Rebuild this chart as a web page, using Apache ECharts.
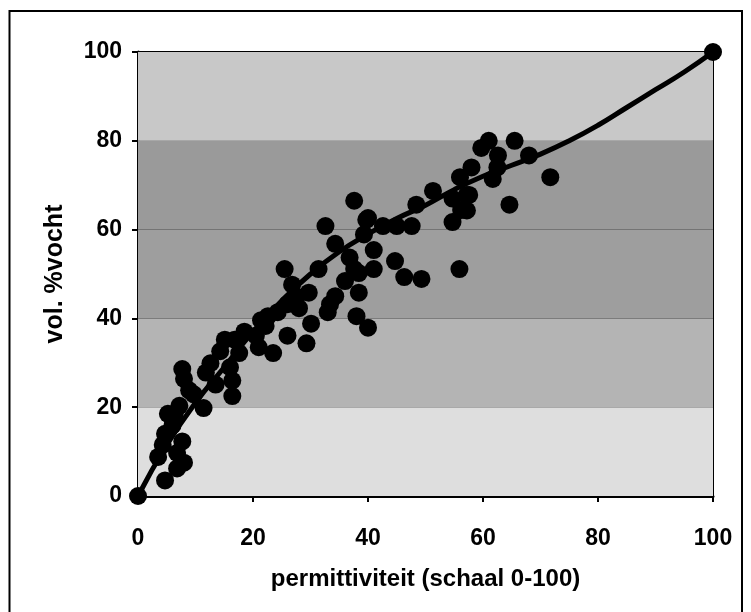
<!DOCTYPE html>
<html>
<head>
<meta charset="utf-8">
<script src="https://cdn.jsdelivr.net/npm/echarts@6/dist/echarts.min.js"></script>
<style>
html,body{margin:0;padding:0;background:#fff;}
#chart{width:751px;height:612px;}
</style>
</head>
<body>
<div id="chart"></div>
<script>
// Data
const pointX = [0,100,59.7,61,65.5,62.6,68,71.7,56,58,62.5,61.7,64.6,51.3,48.4,54.7,57.2,57.2,54.7,55.9,
  37.6,32.6,40,42.6,45,47.6,34.3,39.3,41,44.7,46.3,49.3,31.4,25.5,26.8,37.6,38.4,41,38.4,38,40,
  33.4,33,29.7,28,26,24.3,29.3,26,23.5,21.4,22.2,20.5,18.5,21,16.8,15.1,14.3,17.6,16,12.6,11.8,
  16.4,13.5,16.4,11.4,9.7,7.7,8,8.9,5.2,6.4,6,4.7,4.3,7.2,7.7,6.8,8,6.8,4.7,3.5,
  27.6,22.6,30.1,34.3,36,36.8,39.7,57.6,56.2];
const pointY = [0,100,78.4,80,80,76.7,76.7,71.8,71.8,74,74,71.4,65.6,68.7,65.6,67,67.8,64.3,61.7,51.1,
  66.5,60.8,62.6,60.8,60.8,60.8,56.8,58.9,55.4,52.9,49.3,48.9,51.1,51.1,47.6,51.1,50.2,51.1,45.8,40.5,37.9,
  43.2,41.4,45.8,42.3,43.2,41.4,34.4,36.1,32.2,39.6,38.3,36.1,37,33.5,35.2,35.2,32.6,32.2,29,29.9,27.8,
  26,25.1,22.5,19.8,22.9,28.6,26.4,23.8,18.5,18.5,15.9,14,11.5,20.3,12.3,9.7,7.5,6.2,3.5,8.8,
  44.9,40.5,38.8,45,48.4,53.7,62.2,67.8,64.4];
const curveX = [0,5,10,15,20,25,30,35,40,45,50,55,60,65,70,75,80,85,90,95,100];
const curveY = [0,11.5,21,29,37,44,50,55,59,62.5,65.5,69,72,74.5,77,80,83.5,87.5,91.5,95.5,100];
const ticks = [0,20,40,60,80,100];
const xName = 'permittiviteit (schaal 0-100)';
const yName = 'vol. %vocht';

const pts = pointX.map((x,i)=>[x,pointY[i]]);
const curve = curveX.map((x,i)=>[x,curveY[i]]);

const chart = echarts.init(document.getElementById('chart'), null, {renderer:'canvas'});
const labelFont = {color:'#000', fontFamily:'Liberation Sans, Arial, sans-serif', fontWeight:'bold', fontSize:23};
chart.setOption({
  animation:false,
  backgroundColor:'#fff',
  graphic:[
    {type:'polyline', shape:{points:[[9.5,612],[9.5,11],[742,11],[742,612]]}, style:{stroke:'#000', lineWidth:2, fill:null}, z:0}
  ],
  grid:{left:138, right:38, top:52, bottom:116, show:true, backgroundColor:'#bdbdbd', borderColor:'#000', borderWidth:2},
  xAxis:{type:'value', min:0, max:100, interval:20,
    name:xName, nameLocation:'middle', nameGap:71,
    nameTextStyle:Object.assign({}, labelFont, {fontSize:24}),
    axisLine:{show:true, onZero:false, lineStyle:{color:'#000', width:3}},
    axisTick:{show:true, inside:false, length:6, lineStyle:{color:'#000', width:2}},
    axisLabel:Object.assign({margin:31}, labelFont),
    splitLine:{show:false}},
  yAxis:{type:'value', min:0, max:100, interval:20,
    name:yName, nameLocation:'middle', nameGap:70,
    nameTextStyle:Object.assign({}, labelFont, {fontSize:25}),
    axisLine:{show:true, onZero:false, lineStyle:{color:'#000', width:3}},
    axisTick:{show:true, inside:false, length:6, lineStyle:{color:'#000', width:2}},
    axisLabel:Object.assign({margin:16}, labelFont),
    splitLine:{show:true, lineStyle:{color:'#000', width:2.5}}},
  series:[
    {type:'line', data:curve, smooth:true, showSymbol:false, symbol:'none', z:3,
     lineStyle:{color:'#000', width:5},
     markArea:{silent:true, z:1, data:[
       [{yAxis:0, itemStyle:{color:'#dedede'}},{yAxis:20}],
       [{yAxis:20, itemStyle:{color:'#b4b4b4'}},{yAxis:40}],
       [{yAxis:40, itemStyle:{color:'#9e9e9e'}},{yAxis:60}],
       [{yAxis:60, itemStyle:{color:'#9a9a9a'}},{yAxis:80}],
       [{yAxis:80, itemStyle:{color:'#c8c8c8'}},{yAxis:100}]
     ]}},
    {type:'scatter', data:pts, symbol:'circle', symbolSize:18, z:4,
     itemStyle:{color:'#000', opacity:1}}
  ]
});
</script>
</body>
</html>
